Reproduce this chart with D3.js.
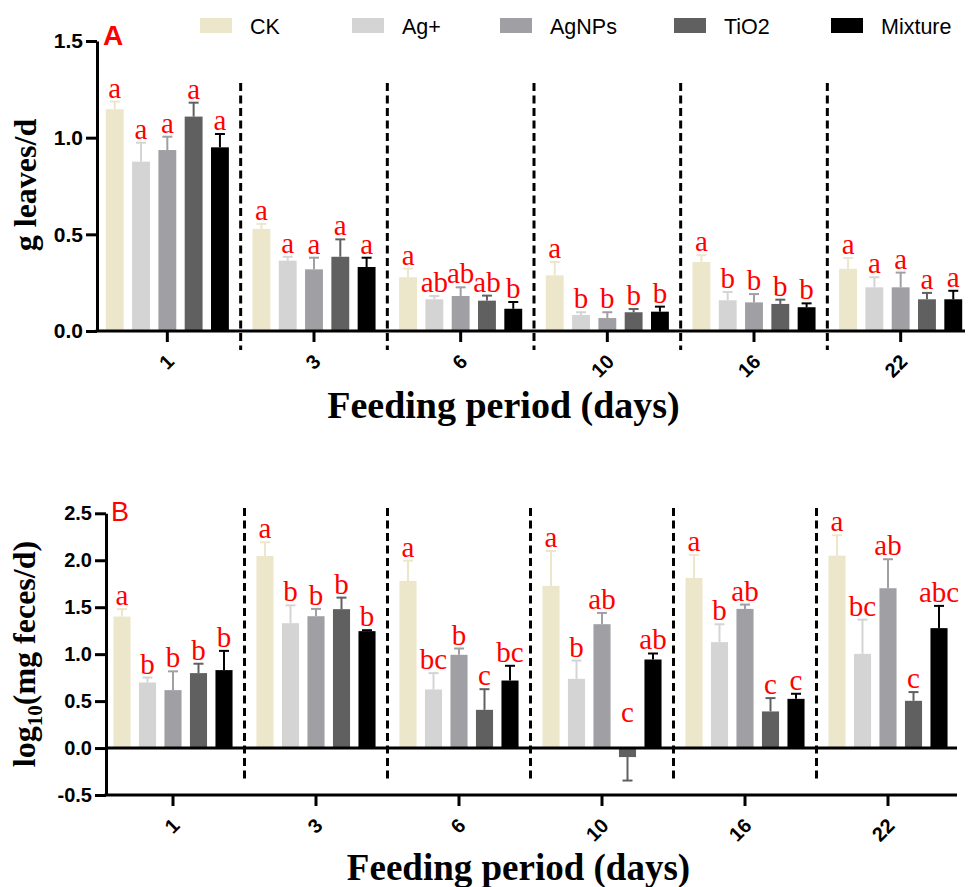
<!DOCTYPE html>
<html><head><meta charset="utf-8">
<script src="https://cdn.jsdelivr.net/npm/d3@7"></script>
<style>
body{margin:0;background:#fff;}
svg{display:block;}
</style></head>
<body>
<svg id="chart" width="970" height="887"></svg>
<script>
// ---------- DATA ----------
const days = ["1","3","6","10","16","22"];
const series = ["CK","Ag+","AgNPs","TiO2","Mixture"];
const seriesColors = ["#ECE6CB","#D4D4D4","#A0A0A4","#606060","#000000"];

// Panel A: g leaves/d
const leavesCK      = [1.147, 0.528, 0.278, 0.288, 0.357, 0.322];
const leavesAg      = [0.876, 0.364, 0.164, 0.083, 0.159, 0.226];
const leavesAgNPs   = [0.936, 0.319, 0.181, 0.067, 0.148, 0.226];
const leavesTiO2    = [1.109, 0.384, 0.157, 0.097, 0.140, 0.164];
const leavesMix     = [0.950, 0.331, 0.115, 0.100, 0.123, 0.164];
const leavesCKErr    = [0.040, 0.026, 0.045, 0.069, 0.035, 0.055];
const leavesAgErr    = [0.098, 0.020, 0.017, 0.014, 0.043, 0.052];
const leavesAgNPsErr = [0.069, 0.060, 0.045, 0.030, 0.043, 0.076];
const leavesTiO2Err  = [0.072, 0.090, 0.026, 0.017, 0.022, 0.033];
const leavesMixErr   = [0.069, 0.048, 0.035, 0.026, 0.020, 0.044];
const leavesCKSig    = ["a","a","a","a","a","a"];
const leavesAgSig    = ["a","a","ab","b","b","a"];
const leavesAgNPsSig = ["a","a","ab","b","b","a"];
const leavesTiO2Sig  = ["a","a","ab","b","b","a"];
const leavesMixSig   = ["a","a","b","b","b","a"];
const leavesTicks = [0, 0.5, 1.0, 1.5];

// Panel B: log10(mg feces/d)
const fecesCK      = [1.400, 2.046, 1.780, 1.727, 1.812, 2.049];
const fecesAg      = [0.698, 1.330, 0.624, 0.737, 1.128, 1.003];
const fecesAgNPs   = [0.617, 1.404, 0.993, 1.319, 1.482, 1.702];
const fecesTiO2    = [0.798, 1.479, 0.407, -0.096, 0.390, 0.503];
const fecesMix     = [0.830, 1.245, 0.719, 0.943, 0.524, 1.277];
const fecesCKErr    = [0.080, 0.145, 0.216, 0.372, 0.245, 0.217];
const fecesAgErr    = [0.053, 0.190, 0.174, 0.195, 0.190, 0.365];
const fecesAgNPsErr = [0.200, 0.078, 0.067, 0.120, 0.046, 0.309];
const fecesTiO2Err  = [0.100, 0.123, 0.220, 0.250, 0.142, 0.093];
const fecesMixErr   = [0.205, 0.010, 0.157, 0.064, 0.054, 0.237];
const fecesCKSig    = ["a","a","a","a","a","a"];
const fecesAgSig    = ["b","b","bc","b","b","bc"];
const fecesAgNPsSig = ["b","b","b","ab","ab","ab"];
const fecesTiO2Sig  = ["b","b","c","c","c","c"];
const fecesMixSig   = ["b","b","bc","ab","c","abc"];
const fecesTicks = [-0.5, 0, 0.5, 1.0, 1.5, 2.0, 2.5];

// ---------- DRAW ----------
const svg = d3.select("#chart");
const SANS = "'Liberation Sans', Arial, Helvetica, sans-serif";
const SERIF = "'Liberation Serif', 'Times New Roman', Times, serif";

function buildRows(means, errs, sigs) {
  const rows = [];
  days.forEach((d, i) => {
    series.forEach((s, j) => {
      rows.push({day: d, s, v: means[j][i], e: errs[j][i], sig: sigs[j][i], color: seriesColors[j]});
    });
  });
  return rows;
}

function drawPanel(cfg) {
  const g = svg.append("g");
  const x0 = d3.scaleBand().domain(days).range(cfg.xRange).padding(0);
  const x1 = d3.scaleBand().domain(series).range([0, cfg.innerW])
    .paddingInner(cfg.pad).paddingOuter(cfg.pad / 2);
  const y = d3.scaleLinear().domain(cfg.yDomain).range(cfg.yRange);
  const off = (x0.bandwidth() - cfg.innerW) / 2;
  const rows = buildRows(cfg.means, cfg.errs, cfg.sigs);
  const bx = d => x0(d.day) + off + x1(d.s);
  const bw = x1.bandwidth();

  // dashed separators
  days.slice(1).forEach(d => {
    const xs = x0(d);
    g.append("line").attr("x1", xs).attr("x2", xs)
      .attr("y1", cfg.dashY[0]).attr("y2", cfg.dashY[1])
      .attr("stroke", "#000").attr("stroke-width", 3)
      .attr("stroke-dasharray", "8,4.5");
  });

  // bars
  g.selectAll("rect.bar").data(rows).join("rect")
    .attr("class", "bar")
    .attr("x", bx).attr("width", bw)
    .attr("y", d => y(Math.max(0, d.v)))
    .attr("height", d => Math.abs(y(d.v) - y(0)))
    .attr("fill", d => d.color);

  // error bars
  const eg = g.selectAll("g.err").data(rows).join("g").attr("class", "err");
  eg.append("line")
    .attr("x1", d => bx(d) + bw / 2).attr("x2", d => bx(d) + bw / 2)
    .attr("y1", d => y(d.v))
    .attr("y2", d => y(d.v >= 0 ? d.v + d.e : d.v - d.e))
    .attr("stroke", d => d.color).attr("stroke-width", 2);
  eg.append("line")
    .attr("x1", d => bx(d) + bw / 2 - 5).attr("x2", d => bx(d) + bw / 2 + 5)
    .attr("y1", d => y(d.v >= 0 ? d.v + d.e : d.v - d.e))
    .attr("y2", d => y(d.v >= 0 ? d.v + d.e : d.v - d.e))
    .attr("stroke", d => d.color).attr("stroke-width", 2);

  // significance letters
  g.selectAll("text.sig").data(rows).join("text")
    .attr("class", "sig")
    .attr("x", d => bx(d) + bw / 2)
    .attr("y", d => d.v >= 0 ? y(d.v + d.e) - 4 : y(0) - 26)
    .attr("text-anchor", "middle")
    .attr("font-family", SERIF).attr("font-size", 29)
    .attr("fill", "#ff0000")
    .text(d => d.sig);

  // zero line
  if (cfg.zeroLine) {
    g.append("line").attr("x1", cfg.axisX[0]).attr("x2", cfg.axisX[1])
      .attr("y1", y(0)).attr("y2", y(0))
      .attr("stroke", "#000").attr("stroke-width", 3);
  }

  // y axis
  const ya = g.append("g").attr("transform", `translate(${cfg.axisX[0]},0)`)
    .call(d3.axisLeft(y).tickValues(cfg.ticks).tickFormat(d => d.toFixed(1))
      .tickSize(11).tickSizeOuter(0).tickPadding(3));
  ya.select(".domain").attr("stroke-width", 3);
  ya.selectAll(".tick line").attr("stroke-width", 3);
  ya.selectAll(".tick text").attr("font-family", SANS).attr("font-weight", "bold")
    .attr("font-size", cfg.yFont).attr("fill", "#000");

  // x axis
  const xBase = y(cfg.yDomain[0]);
  const xa = g.append("g").attr("transform", `translate(0,${xBase})`)
    .call(d3.axisBottom(x0).tickSize(11).tickSizeOuter(0));
  xa.select(".domain").remove();
  xa.append("line").attr("x1", cfg.axisX[0] - 1.5).attr("x2", cfg.axisX[1])
    .attr("stroke", "#000").attr("stroke-width", 3);
  xa.selectAll(".tick line").attr("stroke-width", 3);
  xa.selectAll(".tick text")
    .attr("font-family", SANS).attr("font-weight", "bold").attr("font-size", 20)
    .attr("fill", "#000").attr("text-anchor", "end")
    .attr("x", 0).attr("y", 0).attr("dy", "0.35em")
    .attr("transform", "translate(3,27) rotate(-45)");

  // x title
  g.append("text").attr("x", cfg.xTitle[0]).attr("y", cfg.xTitle[1])
    .attr("text-anchor", "middle").attr("font-family", SERIF)
    .attr("font-weight", "bold").attr("font-size", cfg.xTitle[2])
    .text("Feeding period (days)");

  // panel letter
  g.append("text").attr("x", cfg.letter[0]).attr("y", cfg.letter[1])
    .attr("font-family", SANS).attr("font-weight", cfg.letter[3])
    .attr("font-size", cfg.letter[2]).attr("fill", "#ff0000")
    .text(cfg.letter[4]);
  return g;
}

const gA = drawPanel({
  xRange: [94, 974], axisX: [97, 965], innerW: 131.5, pad: 0.32,
  yDomain: [0, 1.5], yRange: [331, 41], ticks: leavesTicks, yFont: 21,
  dashY: [83, 350], zeroLine: false,
  means: [leavesCK, leavesAg, leavesAgNPs, leavesTiO2, leavesMix],
  errs: [leavesCKErr, leavesAgErr, leavesAgNPsErr, leavesTiO2Err, leavesMixErr],
  sigs: [leavesCKSig, leavesAgSig, leavesAgNPsSig, leavesTiO2Sig, leavesMixSig],
  xTitle: [503.5, 418, 38], letter: [103, 45, 28, "bold", "A"]
});

const gB = drawPanel({
  xRange: [101.5, 959.5], axisX: [106, 957], innerW: 127.5, pad: 0.33,
  yDomain: [-0.5, 2.5], yRange: [795, 513.3], ticks: fecesTicks, yFont: 20,
  dashY: [508, 780], zeroLine: true,
  means: [fecesCK, fecesAg, fecesAgNPs, fecesTiO2, fecesMix],
  errs: [fecesCKErr, fecesAgErr, fecesAgNPsErr, fecesTiO2Err, fecesMixErr],
  sigs: [fecesCKSig, fecesAgSig, fecesAgNPsSig, fecesTiO2Sig, fecesMixSig],
  xTitle: [518.5, 880, 37], letter: [111, 521, 27, "normal", "B"]
});

// y titles
svg.append("text").attr("transform", "translate(36,185) rotate(-90)")
  .attr("text-anchor", "middle").attr("font-family", SERIF)
  .attr("font-weight", "bold").attr("font-size", 32)
  .text("g leaves/d");

const yb = svg.append("text").attr("transform", "translate(35,654) rotate(-90)")
  .attr("text-anchor", "middle").attr("font-family", SERIF)
  .attr("font-weight", "bold").attr("font-size", 32);
yb.append("tspan").text("log");
yb.append("tspan").attr("font-size", 21).attr("dy", 7).text("10");
yb.append("tspan").attr("dy", -7).text("(mg feces/d)");

// legend
const legendX = [200, 352, 500, 674, 831];
const lg = svg.append("g");
series.forEach((s, i) => {
  lg.append("rect").attr("x", legendX[i]).attr("y", 18).attr("width", 32).attr("height", 15)
    .attr("fill", seriesColors[i]);
  lg.append("text").attr("x", legendX[i] + 50).attr("y", 34)
    .attr("font-family", SANS).attr("font-size", 21.5).attr("fill", "#000")
    .text(s);
});
</script>
</body></html>
